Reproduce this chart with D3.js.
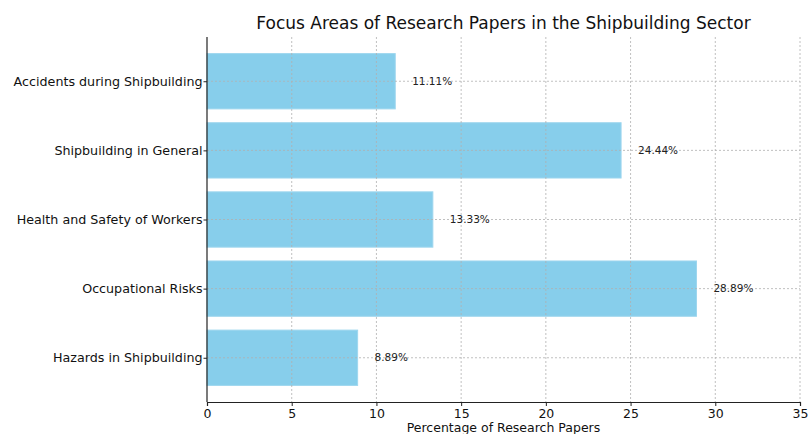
<!DOCTYPE html>
<html><head><meta charset="utf-8">
<script src="https://cdn.jsdelivr.net/npm/d3@7"></script>
<style>body{margin:0;background:#fff}svg{display:block;font-family:"DejaVu Sans",sans-serif}</style>
</head><body>
<svg id="c" width="809" height="434"></svg>
<script>
const categories = ["Hazards in Shipbuilding","Occupational Risks","Health and Safety of Workers","Shipbuilding in General","Accidents during Shipbuilding"];
const values = [8.89, 28.89, 13.33, 24.44, 11.11];
const xTicks = [0,5,10,15,20,25,30,35];
const title = "Focus Areas of Research Papers in the Shipbuilding Sector";
const xLabel = "Percentage of Research Papers";

const svg = d3.select("#c");
const L = 207, R = 800, T = 37, B = 402;
const x = d3.scaleLinear().domain([0,35]).range([L,R]);
const y = d3.scaleLinear().domain([-0.64, 4.64]).range([B,T]);
const bh = y(0) - y(0.8);

const g = svg.append("g");
g.selectAll("rect.bar").data(values).join("rect")
  .attr("x", x(0)).attr("y", (d,i)=>y(i+0.4))
  .attr("width", d=>x(d)-x(0)).attr("height", bh)
  .attr("fill","#87CEEB").attr("stroke","#9ed6ee").attr("stroke-width",1);

g.selectAll("line.gx").data(xTicks.slice(1)).join("line")
  .attr("x1",d=>x(d)).attr("x2",d=>x(d)).attr("y1",T).attr("y2",B)
  .attr("stroke","#b0b0b0").attr("stroke-width",0.8).attr("stroke-dasharray","2,2");
g.selectAll("line.gy").data(categories).join("line")
  .attr("x1",L).attr("x2",R).attr("y1",(d,i)=>y(i)).attr("y2",(d,i)=>y(i))
  .attr("stroke","#b0b0b0").attr("stroke-width",0.8).attr("stroke-dasharray","2,2");

g.selectAll("text.val").data(values).join("text")
  .attr("x", d=>x(d+1)).attr("y",(d,i)=>y(i)).attr("dy","0.35em")
  .attr("font-size",10.5).attr("fill","#222").text(d=>d.toFixed(2)+"%");

const xAxis = d3.axisBottom(x).tickValues(xTicks).tickSize(4).tickFormat(d3.format("d"));
const xg = svg.append("g").attr("transform",`translate(0,${B})`).call(xAxis);
xg.select(".domain").attr("stroke","#222").attr("stroke-width",1.2);
xg.selectAll(".tick line").attr("stroke","#222");
xg.selectAll("text").attr("font-size",12.5).attr("fill","#111").attr("font-family","DejaVu Sans");

const yAxis = d3.axisLeft(y).tickValues(d3.range(categories.length)).tickSize(3.5).tickPadding(1).tickFormat(i=>categories[i]);
const yg = svg.append("g").attr("transform",`translate(${L},0)`).call(yAxis);
yg.select(".domain").attr("stroke","#222").attr("stroke-width",1.2).attr("d",`M0,${T}V${B}`);
yg.selectAll(".tick line").attr("stroke","#222");
yg.selectAll("text").attr("font-size",12.7).attr("fill","#111").attr("font-family","DejaVu Sans");

svg.append("text").attr("x",(L+R)/2).attr("y",29).attr("text-anchor","middle")
  .attr("font-size",17).attr("fill","#111").text(title);
svg.append("text").attr("x",(L+R)/2).attr("y",432).attr("text-anchor","middle")
  .attr("font-size",12.5).attr("fill","#111").text(xLabel);
</script>
</body></html>
